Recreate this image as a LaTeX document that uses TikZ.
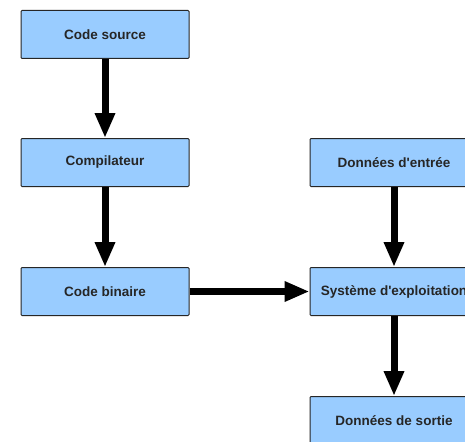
\documentclass[tikz,border=0pt]{standalone}
\usepackage{fontspec}
\setmainfont{Liberation Sans}
\usepackage{tikz}
\usetikzlibrary{arrows.meta}
\tikzset{
	main node/.style={rectangle,draw=black!85,fill=blockblue,line width=1pt,rounded corners=1pt,
		minimum width=168pt,minimum height=48pt,inner sep=0pt,text=black!85,
		font=\bfseries\fontsize{13.5}{15}\selectfont},
	flow/.style={line width=7pt}
}
\definecolor{blockblue}{HTML}{99CCFF}

\begin{document}
\begin{tikzpicture}[x=1pt,y=1pt,>={Triangle[width=19pt,length=25pt]}]
	\useasboundingbox (0,0) rectangle (465,-441);
	\clip (0,0) rectangle (465,-441);
	\fill[white] (0,0) rectangle (465,-441);
	% left column
	\node [main node] (source) at (105,-34.5) {Code source};
	\node [main node] (compil) at (105,-162.5) {Compilateur};
	\node [main node] (binaire) at (105,-291.5) {Code binaire};
	% right column
	\node [main node] (entree) at (394,-162.5) {Données d\textquotesingle entrée};
	\node [main node] (os) at (394,-291.5) {Système d\textquotesingle exploitation};
	\node [main node] (sortie) at (394,-420.5) {Données de sortie};
	% arrows
	\draw [flow,->] (source) -- (compil);
	\draw [flow,->] (compil) -- (binaire);
	\draw [flow,->] (binaire) -- (os);
	\draw [flow,->] (entree) -- (os);
	\draw [flow,->] (os) -- (sortie);
\end{tikzpicture}
\end{document}
